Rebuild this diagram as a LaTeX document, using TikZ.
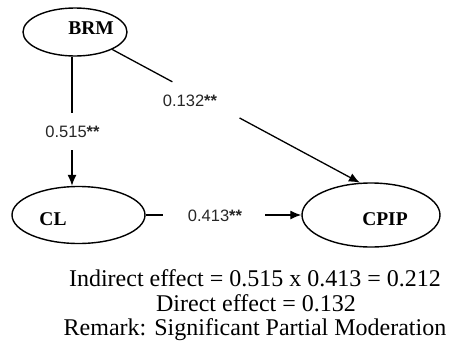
\documentclass[tikz,border=0pt]{standalone}
\usepackage{fontspec}
\setmainfont{Liberation Serif}
\newfontfamily\lblfont{Liberation Sans}
\usetikzlibrary{shapes.geometric,arrows.meta}
\begin{document}
\begin{tikzpicture}[x=1pt,y=-1pt,
  var/.style={ellipse,draw,line width=1.4pt,inner sep=0pt},
  vname/.style={font=\fontsize{19.5}{19.5}\selectfont\bfseries,inner sep=0pt},
  coef/.style={font=\lblfont\fontsize{16.5}{16.5}\selectfont,inner sep=0pt,text=black!85},
  conn/.style={line width=1.3pt},
  arr/.style={conn,-{Latex[length=11pt,width=9pt]}},
  note/.style={font=\fontsize{24}{24}\selectfont,inner sep=0pt,anchor=base}]
\useasboundingbox (0,0) rectangle (450,346);
% variables
\node[var,minimum width=104pt,minimum height=48pt] (BRM) at (75,32) {};
\node[var,minimum width=133pt,minimum height=57pt] (CL) at (78.5,215) {};
\node[var,minimum width=138pt,minimum height=64pt] (CPIP) at (371,215) {};
\node[vname] (BRMt) at (91,28.5) {BRM};
\node[vname] (CLt) at (53,219.5) {CL};
\node[vname] (CPIPt) at (385,219) {CPIP};
% gap coordinates
\coordinate (v1) at (72,113);
\coordinate (v2) at (72,150);
\coordinate (h1) at (163,215);
\coordinate (h2) at (265,215);
\path (BRM.south east) -- (CPIP.109)
  coordinate[pos=0.243] (d1) coordinate[pos=0.514] (d2);
% connectors
\draw[conn] (BRM.south -| v1) -- (v1);
\draw[arr] (v2) -- (v2 |- CL.north);
\draw[conn] (BRM.south east) -- (d1);
\draw[arr] (d2) -- (CPIP.109);
\draw[conn] (CL.east) -- (CL.east -| h1);
\draw[arr] (h2 |- CPIP.west) -- (CPIP.west);
% coefficients
\node[coef] (c1) at (72.5,132) {0.515\textbf{**}};
\node[coef] (c2) at (190,101) {0.132\textbf{**}};
\node[coef] (c3) at (215,216) {0.413\textbf{**}};
% notes
\node[note] (n1) at (255,286) {Indirect effect = 0.515 x 0.413 = 0.212};
\node[note] (n2) at (256,311) {Direct effect = 0.132};
\node[note] (n3) at (255,335) {Remark: Significant Partial Moderation};
\end{tikzpicture}
\end{document}
